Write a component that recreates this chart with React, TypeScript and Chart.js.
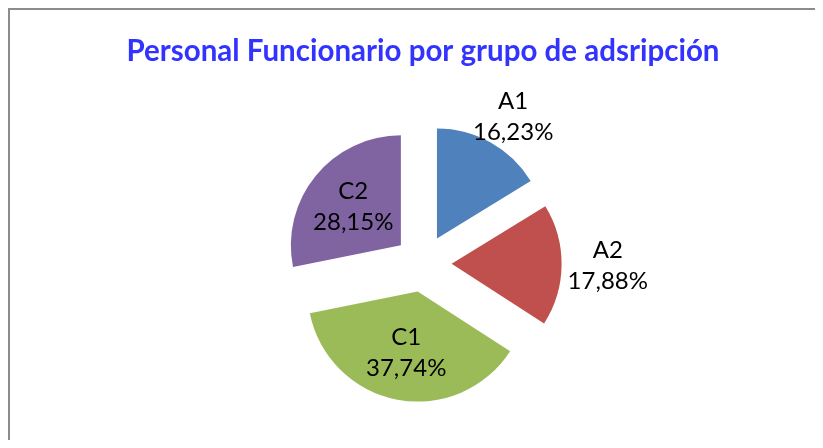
import React, { useEffect, useRef } from "react";
import { Chart, registerables } from "chart.js";

Chart.register(...registerables);

// ---- data ----
const categories = ["A1", "A2", "C1", "C2"];
const shares = [16.23, 17.88, 37.74, 28.15];
const titleText = "Personal Funcionario por grupo de adsripción";

// ---- style ----
const sliceColors = ["#4F81BD", "#C0504D", "#9BBB59", "#8064A2"];
const labelModes = ["outside", "outside", "inside", "inside"];
const FONT = "Lato, 'Open Sans', sans-serif";

const fmtPct = (v: number) => v.toFixed(2).replace(".", ",") + "%";

const explodePlugin = {
  id: "explode",
  afterDatasetsUpdate(chart: any, _args: any, opts: any) {
    const meta = chart.getDatasetMeta(0);
    meta.data.forEach((arc: any) => {
      const mid = (arc.startAngle + arc.endAngle) / 2;
      const d = arc.outerRadius * (opts.fraction || 0);
      arc.x += Math.cos(mid) * d;
      arc.y += Math.sin(mid) * d;
    });
  },
};

const sliceLabelPlugin = {
  id: "sliceLabels",
  afterDatasetsDraw(chart: any, _args: any, opts: any) {
    const ctx = chart.ctx;
    const meta = chart.getDatasetMeta(0);
    const size = opts.size || 23;
    const lh = opts.lineHeight || 31;
    const capH = size * 0.72;
    ctx.save();
    ctx.font = `${size}px ${FONT}`;
    ctx.fillStyle = "#000000";
    ctx.textAlign = "center";
    ctx.textBaseline = "alphabetic";
    meta.data.forEach((arc: any, i: number) => {
      const mid = (arc.startAngle + arc.endAngle) / 2;
      const dx = Math.cos(mid);
      const dy = Math.sin(mid);
      const r = arc.outerRadius;
      const lines = [categories[i], fmtPct(shares[i])];
      const w = Math.max(...lines.map((l) => ctx.measureText(l).width));
      const h = lh + capH;
      let cx: number;
      let cy: number;
      if (labelModes[i] === "inside") {
        cx = arc.x + dx * r * 0.56;
        cy = arc.y + dy * r * 0.56;
      } else {
        const gap = 6;
        cx = arc.x + dx * (r + gap) + (dx * w) / 2;
        cy = arc.y + dy * (r + gap) + (dy * h) / 2;
      }
      ctx.fillText(lines[0], cx, cy - lh / 2 + capH / 2);
      ctx.fillText(lines[1], cx, cy + lh / 2 + capH / 2);
    });
    ctx.restore();
  },
};

export default function App() {
  const canvasRef = useRef<HTMLCanvasElement | null>(null);

  useEffect(() => {
    document.documentElement.style.overflow = "hidden";
    document.body.style.overflow = "hidden";
    const canvas = canvasRef.current;
    if (!canvas) return;
    const chart = new Chart(canvas, {
      type: "pie",
      data: {
        labels: categories,
        datasets: [
          {
            data: shares,
            backgroundColor: sliceColors,
            borderWidth: 0,
            radius: 110,
          } as any,
        ],
      },
      options: {
        animation: false,
        responsive: false,
        events: [],
        layout: { padding: { left: 21, right: 0, top: 0, bottom: 0 } },
        plugins: {
          legend: { display: false },
          tooltip: { enabled: false },
          title: {
            display: true,
            text: titleText,
            color: "#3333FF",
            font: { family: FONT, size: 29.5, weight: "bold", lineHeight: 1.2 },
            padding: { top: 24, bottom: 17.6 },
          },
          explode: { fraction: 0.26 },
          sliceLabels: { size: 24, lineHeight: 31 },
        } as any,
      },
      plugins: [explodePlugin, sliceLabelPlugin],
    });
    return () => chart.destroy();
  }, []);

  return (
    <div
      style={{
        borderTop: "2px solid #8c8c8c",
        borderLeft: "2px solid #8c8c8c",
        width: 805,
        height: 430,
        background: "#ffffff",
      }}
    >
      <canvas
        ref={canvasRef}
        width={805}
        height={430}
        style={{ display: "block", width: 805, height: 430 }}
      />
    </div>
  );
}
